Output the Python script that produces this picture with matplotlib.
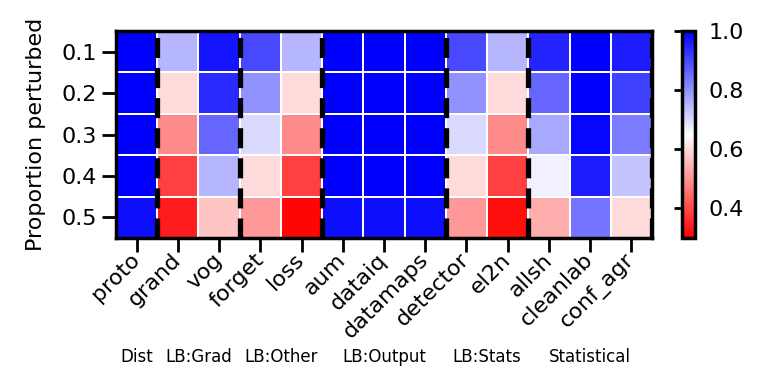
import numpy as np
import matplotlib
matplotlib.use("Agg")
import matplotlib.pyplot as plt
from matplotlib.transforms import blended_transform_factory, ScaledTranslation

methods = ["proto", "grand", "vog", "forget", "loss", "aum", "dataiq",
           "datamaps", "detector", "el2n", "allsh", "cleanlab", "conf_agr"]
proportions = ["0.1", "0.2", "0.3", "0.4", "0.5"]

# one list per method, rows = proportion perturbed 0.1 .. 0.5
proto = [1.00, 1.00, 1.00, 1.00, 0.98]
grand = [0.75, 0.60, 0.49, 0.39, 0.34]
vog = [0.97, 0.94, 0.86, 0.75, 0.57]
forget = [0.90, 0.80, 0.70, 0.60, 0.51]
loss = [0.75, 0.60, 0.49, 0.39, 0.31]
aum = [1.00, 1.00, 1.00, 1.00, 0.98]
dataiq = [1.00, 1.00, 1.00, 1.00, 0.98]
datamaps = [1.00, 1.00, 1.00, 1.00, 0.98]
detector = [0.90, 0.80, 0.70, 0.60, 0.51]
el2n = [0.75, 0.60, 0.49, 0.39, 0.32]
allsh = [0.95, 0.86, 0.77, 0.67, 0.54]
cleanlab = [1.00, 1.00, 0.99, 0.96, 0.84]
conf_agr = [0.96, 0.91, 0.83, 0.73, 0.60]

groups = ["Dist", "LB:Grad", "LB:Other", "LB:Output", "LB:Stats", "Statistical"]
group_sizes = [1, 2, 2, 3, 2, 3]

data = np.array([proto, grand, vog, forget, loss, aum, dataiq, datamaps,
                 detector, el2n, allsh, cleanlab, conf_agr]).T

fig = plt.figure(figsize=(7.62, 3.88), dpi=100)
ax = fig.add_axes([0.1522, 0.3866, 0.7034, 0.5335])
cax = fig.add_axes([0.895, 0.3866, 0.017, 0.5335])

mesh = ax.pcolormesh(data, cmap="bwr_r", vmin=0.3, vmax=1.0,
                     edgecolors="white", linewidth=1.2)
ax.set_xlim(0, data.shape[1])
ax.set_ylim(data.shape[0], 0)

bounds = np.cumsum(group_sizes)
for b in bounds:
    ax.axvline(b, color="black", lw=3.8, linestyle=(0, (3.8, 1.9)))

ax.set_xticks(np.arange(data.shape[1]) + 0.5)
ax.set_xticklabels(methods, rotation=45, ha="right", va="center",
                   rotation_mode="anchor", fontsize=16)
shift = ScaledTranslation(6 / 72, -1 / 72, fig.dpi_scale_trans)
for lbl in ax.get_xticklabels():
    lbl.set_transform(lbl.get_transform() + shift)
ax.set_yticks(np.arange(data.shape[0]) + 0.5)
ax.set_yticklabels(proportions, fontsize=16)
ax.set_ylabel("Proportion perturbed", fontsize=16, labelpad=11)
ax.tick_params(length=10, width=2)
for s in ax.spines.values():
    s.set_linewidth(2.5)

trans = blended_transform_factory(ax.transData, fig.transFigure)
centers = bounds - np.array(group_sizes) / 2
for name, x in zip(groups, centers):
    ax.text(x, 0.08, name, transform=trans, ha="center", va="center",
            fontsize=12)

cb = fig.colorbar(mesh, cax=cax)
cb.set_ticks([0.4, 0.6, 0.8, 1.0])
cb.ax.tick_params(labelsize=16, length=6, width=2, left=True, right=False)
cb.outline.set_linewidth(2.5)

fig.savefig("out.png", dpi=100)
